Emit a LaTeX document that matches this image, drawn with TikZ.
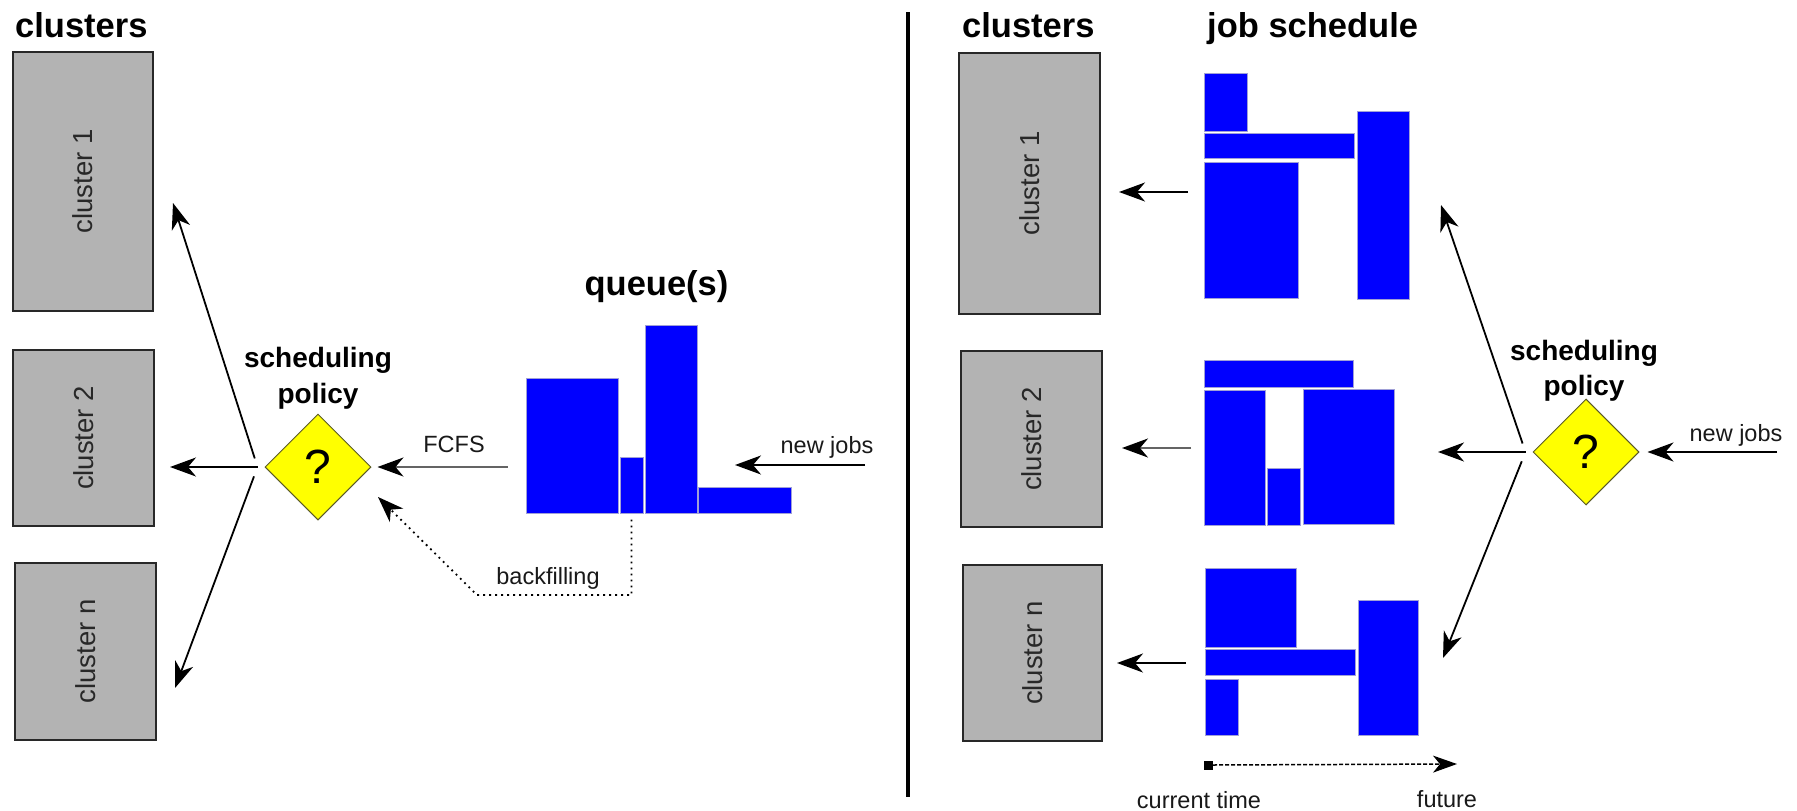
\documentclass[tikz,border=0pt]{standalone}
\usepackage{fontspec}
\setmainfont{Liberation Sans}
\usetikzlibrary{shapes.geometric,arrows.meta,calc}
\definecolor{boxgray}{RGB}{179,179,179}
\definecolor{boxline}{RGB}{40,40,40}
\definecolor{jobblue}{RGB}{0,0,255}
\definecolor{jobedge}{RGB}{160,160,215}
\definecolor{diayellow}{RGB}{255,255,0}
\definecolor{dialine}{RGB}{90,90,40}
\definecolor{txt}{RGB}{25,25,25}
\definecolor{fcfsgray}{RGB}{100,100,100}
\begin{document}
\begin{tikzpicture}[x=1pt,y=-1pt,
  cbox/.style={draw=boxline, fill=boxgray, line width=1.5pt, rotate=90, inner sep=0pt,
    font=\fontsize{27.5}{30}\selectfont, text=boxline},
  job/.style={fill=jobblue, draw=jobedge, line width=1pt, inner sep=0pt},
  ttl/.style={font=\bfseries\fontsize{34.5}{40}\selectfont, inner sep=0pt, text=black},
  pol/.style={font=\bfseries\fontsize{28}{34}\selectfont, inner sep=0pt, text=black},
  lbl/.style={font=\fontsize{23.5}{28}\selectfont, inner sep=0pt, text=txt},
  dia/.style={shape=diamond, aspect=1, minimum width=106pt, minimum height=106pt, inner sep=0pt,
    fill=diayellow, draw=dialine, line width=1pt, font=\fontsize{48}{50}\selectfont},
  arr/.style={line width=1.8pt, -{Stealth[length=26pt,width=19pt,inset=8pt]}},
  grayarr/.style={line width=1.8pt, draw=fcfsgray, -{Stealth[length=26pt,width=19pt,inset=8pt,color=black,fill=black]}},
  bfl/.style={line width=1.8pt, dash pattern=on 1.8pt off 4.2pt, -{Stealth[length=26pt,width=19pt,inset=8pt]}}
]
\useasboundingbox (0,0) rectangle (1797,811);
\fill[white] (0,0) rectangle (1797,811);

% ---------------- left panel ----------------
\node[ttl, anchor=base west] (lt) at (15,37) {clusters};
\node[cbox, minimum width=259pt, minimum height=140pt] (c1) at (83,181.5) {cluster 1};
\node[cbox, minimum width=176pt, minimum height=141pt] (c2) at (83.5,438) {cluster 2};
\node[cbox, minimum width=177pt, minimum height=141pt] (cn) at (85.5,651.5) {cluster n};

\node[pol, anchor=base] (lp1) at (318,367) {scheduling};
\node[pol, anchor=base] (lp2) at (318,403) {policy};
\node[dia] (d1) at (318,467) {?};

\coordinate (j1) at ($(d1.west)+(-7,0)$);
\coordinate (t1) at (173,203);
\coordinate (t2) at (170,467);
\coordinate (t3) at (175,688);
\draw[arr, shorten <=9pt] (j1) -- (t1);
\draw[arr] (j1) -- (t2);
\draw[arr, shorten <=10pt] (j1) -- (t3);

% queue
\node[job, minimum width=92pt, minimum height=135pt] (qa) at (572,445.5) {};
\node[job, minimum width=23pt, minimum height=56pt] (qb) at (631.5,485) {};
\node[job, minimum width=52pt, minimum height=188pt] (qc) at (671,419) {};
\node[job, minimum width=93pt, minimum height=26pt] (qd) at (744.5,500) {};
\node[ttl, anchor=base] (qt) at (656.5,295) {queue(s)};

\draw[grayarr, shorten <=18pt, shorten >=6pt] (qa.west |- d1.east) -- (d1.east);
\node[lbl, anchor=base] (fcfs) at (454,452) {FCFS};

\coordinate (nj1) at (865,465);
\coordinate (nj1t) at (735,465);
\draw[arr] (nj1) -- (nj1t);
\node[lbl, anchor=base] (njl) at (827,453) {new jobs};

\coordinate (bf1) at (631.5,595);
\coordinate (bf2) at (477,595);
\coordinate (bft) at (378,497);
\draw[bfl, shorten <=6pt] (qb.south) -- (bf1) -- (bf2) -- (bft);
\node[lbl, anchor=base] (bfill) at (548,584) {backfilling};

% divider
\coordinate (dv1) at (908,12);
\coordinate (dv2) at (908,797);
\draw[line width=3.5pt] (dv1) -- (dv2);

% ---------------- right panel ----------------
\node[ttl, anchor=base west] (rt) at (962,37) {clusters};
\node[ttl, anchor=base west] (js) at (1207,37) {job schedule};
\node[cbox, minimum width=261pt, minimum height=141pt] (rc1) at (1029.5,183.5) {cluster 1};
\node[cbox, minimum width=176pt, minimum height=141pt] (rc2) at (1031.5,439) {cluster 2};
\node[cbox, minimum width=176pt, minimum height=139pt] (rcn) at (1032.5,653) {cluster n};

% schedule cluster 1
\node[job, minimum width=43pt, minimum height=58pt] (sa) at (1225.5,102) {};
\node[job, minimum width=150pt, minimum height=25pt] (sb) at (1279,145.5) {};
\node[job, minimum width=94pt, minimum height=136pt] (sc) at (1251,230) {};
\node[job, minimum width=52pt, minimum height=188pt] (sd) at (1383,205) {};
% schedule cluster 2
\node[job, minimum width=149pt, minimum height=27pt] (se) at (1278.5,373.5) {};
\node[job, minimum width=61pt, minimum height=135pt] (sf) at (1234.5,457.5) {};
\node[job, minimum width=33pt, minimum height=57pt] (sg) at (1283.5,496.5) {};
\node[job, minimum width=91pt, minimum height=135pt] (sh) at (1348.5,456.5) {};
% schedule cluster n
\node[job, minimum width=91pt, minimum height=79pt] (si) at (1250.5,607.5) {};
\node[job, minimum width=150pt, minimum height=26pt] (sj) at (1280,662) {};
\node[job, minimum width=33pt, minimum height=56pt] (sk) at (1221.5,707) {};
\node[job, minimum width=60pt, minimum height=135pt] (sl) at (1388,667.5) {};

\coordinate (ra1) at (1188,192);  \coordinate (ra1t) at (1119,192);
\coordinate (ra2) at (1191,448);  \coordinate (ra2t) at (1122,448);
\coordinate (ra3) at (1186,663);  \coordinate (ra3t) at (1117,663);
\draw[arr] (ra1) -- (ra1t);
\draw[grayarr] (ra2) -- (ra2t);
\draw[arr] (ra3) -- (ra3t);

% time axis
\node[fill=black, minimum size=9pt, inner sep=0pt] (now) at (1208.5,765) {};
\coordinate (fut) at (1457,764);
\draw[line width=1.5pt, dash pattern=on 4pt off 2pt, -{Stealth[length=24pt,width=17pt,inset=7pt]}] (now.east) -- (fut);
\node[lbl, anchor=base] (ct) at (1199,808) {current time};
\node[lbl, anchor=base] (fu) at (1447,807) {future};

% right scheduling policy
\node[pol, anchor=base] (rp1) at (1584,360) {scheduling};
\node[pol, anchor=base] (rp2) at (1584,395) {policy};
\node[dia] (d2) at (1586,452) {?};
\coordinate (j2) at ($(d2.west)+(-7,0)$);
\coordinate (u1) at (1441,205);
\coordinate (u2) at (1438,452);
\coordinate (u3) at (1443,658);
\draw[arr, shorten <=9pt] (j2) -- (u1);
\draw[arr] (j2) -- (u2);
\draw[arr, shorten <=10pt] (j2) -- (u3);

\coordinate (nj2) at (1777,452);
\draw[arr, shorten >=8pt] (nj2) -- (d2.east);
\node[lbl, anchor=base] (njr) at (1736,441) {new jobs};
\end{tikzpicture}
\end{document}
